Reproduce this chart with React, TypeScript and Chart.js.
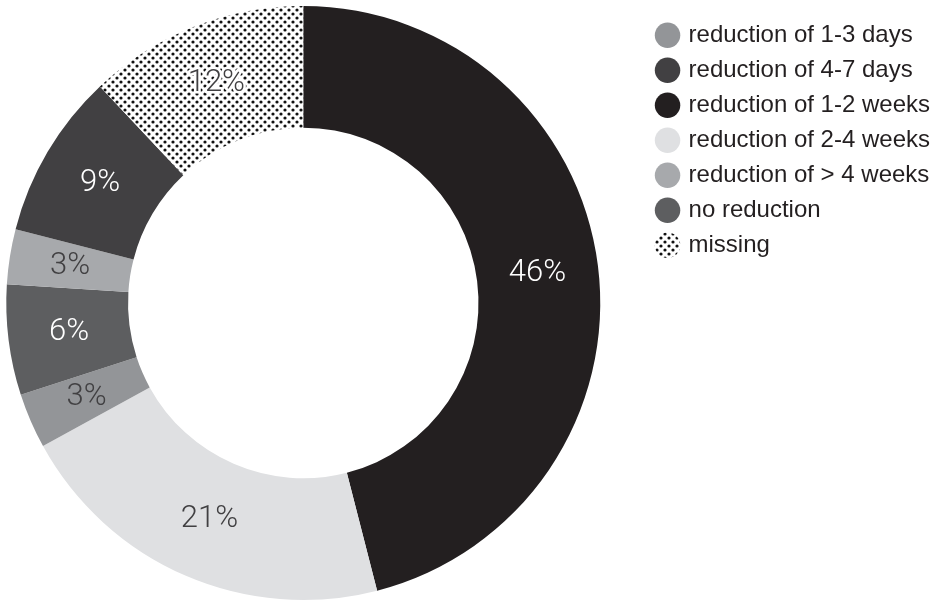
import React, { useEffect, useRef } from "react";
import { Chart, registerables } from "chart.js";

Chart.register(...registerables);

const categories = [
  "reduction of 1-2 weeks",
  "reduction of 2-4 weeks",
  "reduction of 1-3 days",
  "no reduction",
  "reduction of > 4 weeks",
  "reduction of 4-7 days",
  "missing",
];
const shares = [46, 21, 3, 6, 3, 9, 12];
const legendOrder = [
  "reduction of 1-3 days",
  "reduction of 4-7 days",
  "reduction of 1-2 weeks",
  "reduction of 2-4 weeks",
  "reduction of > 4 weeks",
  "no reduction",
  "missing",
];

const sliceColors = ["#231f20", "#dfe0e2", "#939598", "#5d5e60", "#a7a9ac", "#414042"];
const labelColors = ["#ffffff", "#414042", "#414042", "#ffffff", "#414042", "#ffffff", "#414042"];

function makeDotPattern(ctx: CanvasRenderingContext2D): CanvasPattern | string {
  const tile = document.createElement("canvas");
  tile.width = 8;
  tile.height = 8;
  const t = tile.getContext("2d");
  if (!t) return "#888";
  t.fillStyle = "#ffffff";
  t.fillRect(0, 0, 8, 8);
  t.fillStyle = "#111111";
  t.beginPath();
  t.arc(2, 2, 1.6, 0, Math.PI * 2);
  t.fill();
  t.beginPath();
  t.arc(6, 6, 1.6, 0, Math.PI * 2);
  t.fill();
  return ctx.createPattern(tile, "repeat") || "#888";
}

const percentLabels = {
  id: "percentLabels",
  afterDatasetsDraw(chart: any) {
    const { ctx } = chart;
    const meta = chart.getDatasetMeta(0);
    const data = chart.data.datasets[0].data as number[];
    ctx.save();
    ctx.font = "300 31px Roboto, 'Liberation Sans', sans-serif";
    ctx.textAlign = "center";
    ctx.textBaseline = "middle";
    meta.data.forEach((arc: any, i: number) => {
      const p = arc.tooltipPosition();
      const text = data[i] + "%";
      if (i === data.length - 1) {
        ctx.strokeStyle = "#ffffff";
        ctx.lineWidth = 5;
        ctx.lineJoin = "round";
        ctx.strokeText(text, p.x, p.y);
      }
      ctx.fillStyle = labelColors[i];
      ctx.fillText(text, p.x, p.y);
    });
    ctx.restore();
  },
};

export default function App() {
  const ref = useRef<HTMLCanvasElement | null>(null);
  useEffect(() => {
    const canvas = ref.current;
    if (!canvas) return;
    const ctx = canvas.getContext("2d");
    if (!ctx) return;
    const pattern = makeDotPattern(ctx);
    const chart = new Chart(ctx, {
      type: "doughnut",
      data: {
        labels: categories,
        datasets: [
          {
            data: shares,
            backgroundColor: [...sliceColors, pattern] as any,
            borderWidth: 0,
          },
        ],
      },
      options: {
        responsive: false,
        animation: false,
        cutout: "59%",
        layout: { padding: { top: 6, bottom: 1, left: 0, right: 0 } },
        plugins: {
          tooltip: { enabled: false },
          legend: {
            position: "right",
            align: "start",
            title: { display: true, text: " ", font: { size: 1 }, padding: { top: 0, bottom: 5 } },
            labels: {
              usePointStyle: true,
              pointStyle: "circle",
              boxWidth: 18,
              boxHeight: 18,
              padding: 11,
              color: "#231f20",
              font: { family: "'Liberation Sans', Arial, sans-serif", size: 24 },
              sort: (a: any, b: any) => legendOrder.indexOf(a.text) - legendOrder.indexOf(b.text),
            },
          },
        },
      },
      plugins: [percentLabels],
    });
    return () => chart.destroy();
  }, []);
  return (
    <div
      style={{
        position: "absolute",
        left: 0,
        top: 0,
        width: 937,
        height: 601,
        overflow: "hidden",
        background: "#fff",
      }}
    >
      <canvas
        ref={ref}
        width={981}
        height={601}
        style={{ display: "block", position: "absolute", left: -41, top: 0 }}
      />
    </div>
  );
}
